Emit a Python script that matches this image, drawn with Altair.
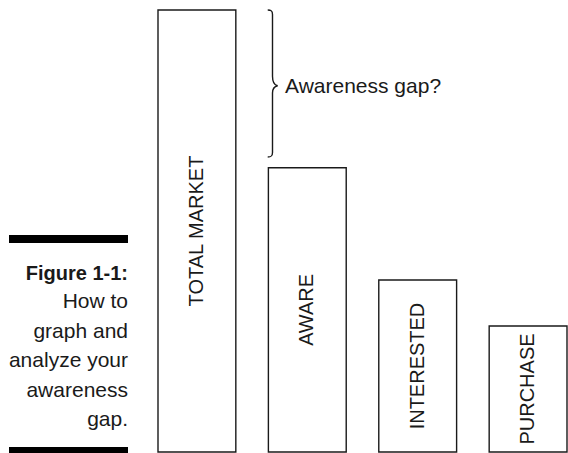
import altair as alt
import pandas as pd

# ---- data ----
stages = ["TOTAL MARKET", "AWARE", "INTERESTED", "PURCHASE"]
sizes = [100, 64.3, 38.9, 28.5]
gap_label = "Awareness gap?"
caption_title = "Figure 1-1:"
caption_lines = ["How to", "graph and", "analyze your", "awareness", "gap."]

FONT = "Liberation Sans"
INK = "#1a1a1a"

df = pd.DataFrame({"stage": stages, "size": sizes})
brace_df = pd.DataFrame({"top": [sizes[0]], "bottom": [sizes[1]]})

xscale = alt.Scale(range=[158, 567], paddingInner=0.295, paddingOuter=0)
yscale = alt.Scale(domain=[0, 100], range=[452, 10], nice=False, zero=True)

X = alt.X("stage:N", sort=stages, scale=xscale, axis=None)

bars = alt.Chart(df).mark_bar(
    fill="white", stroke=INK, strokeWidth=1.4, cornerRadius=0
).encode(
    x=X,
    y=alt.Y("size:Q", scale=yscale, axis=None),
    y2=alt.datum(0),
)

labels = alt.Chart(df).transform_calculate(
    mid="datum.size / 2"
).mark_text(
    angle=270, align="center", baseline="middle", fontSize=20, font=FONT, color=INK
).encode(
    x=X,
    y=alt.Y("mid:Q", scale=yscale, axis=None),
    text="stage:N",
)

brace_path = (
    "M -0.065 -1 C -0.02 -1 0 -0.99 0 -0.94 L 0 -0.1 "
    "C 0 -0.04 0.02 0.02 0.07 0.03 C 0.02 0.04 0 0.08 0 0.13 "
    "L 0 0.94 C 0 0.99 -0.02 1 -0.065 1"
)

brace = alt.Chart(brace_df).transform_calculate(
    mid="(datum.top + datum.bottom) / 2"
).mark_point(
    shape=brace_path, size=21609, filled=False, stroke=INK,
    strokeWidth=1.4, opacity=1, yOffset=-5.4
).encode(
    x=alt.value(272.5),
    y=alt.Y("mid:Q", scale=yscale, axis=None),
)

gap_text = alt.Chart(pd.DataFrame({"t": [gap_label]})).mark_text(
    align="left", baseline="alphabetic", fontSize=21, font=FONT, color=INK
).encode(x=alt.value(285), y=alt.value(93), text="t:N")

rule_top = alt.Chart(pd.DataFrame({"k": [0]})).mark_rect(color="black").encode(
    x=alt.value(9), x2=alt.value(128), y=alt.value(235), y2=alt.value(243)
)
rule_bottom = alt.Chart(pd.DataFrame({"k": [0]})).mark_rect(color="black").encode(
    x=alt.value(9), x2=alt.value(128), y=alt.value(447), y2=alt.value(453)
)

title_text = alt.Chart(pd.DataFrame({"t": [caption_title]})).mark_text(
    align="right", baseline="alphabetic", fontSize=20, fontWeight="bold", font=FONT, color=INK
).encode(x=alt.value(128), y=alt.value(280), text="t:N")

body_text = alt.Chart(pd.DataFrame({"t": ["\n".join(caption_lines)]})).mark_text(
    align="right", baseline="alphabetic", fontSize=21, font=FONT, color=INK,
    lineBreak="\n", lineHeight=29.6
).encode(x=alt.value(128), y=alt.value(308), text="t:N")

chart = alt.layer(
    bars, labels, brace, gap_text, rule_top, rule_bottom, title_text, body_text
).properties(
    width=568, height=453,
    autosize=alt.AutoSizeParams(type="none"),
    padding=0,
    background="white",
).configure_view(strokeWidth=0)

chart.save("out.html", embed_options={"renderer": "svg", "actions": False})
